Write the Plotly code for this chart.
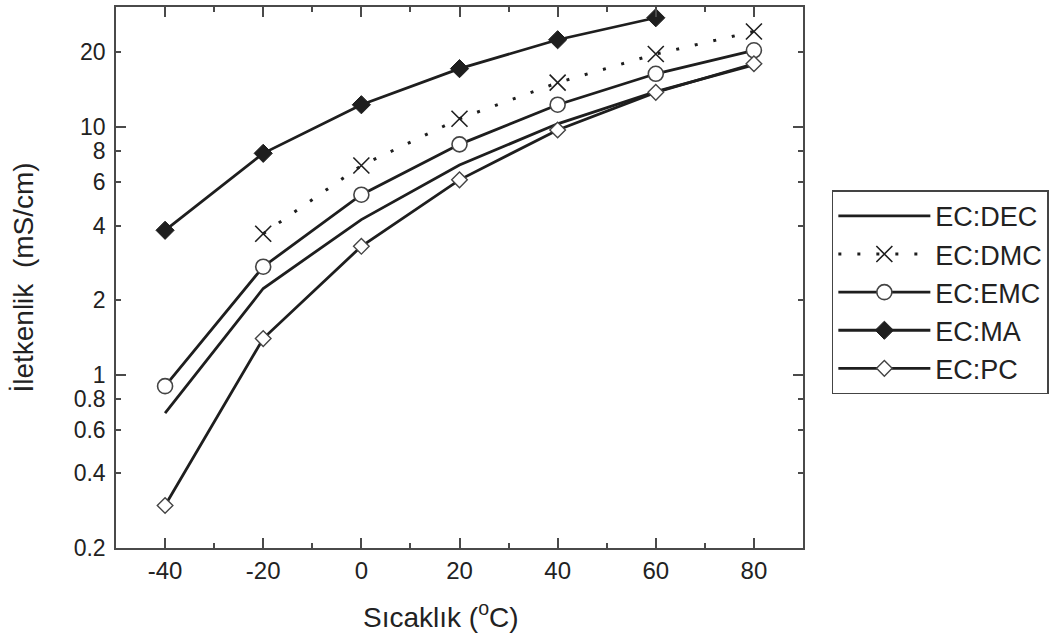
import math
import plotly.graph_objects as go

# ---- data ----
temps = [-40, -20, 0, 20, 40, 60, 80]
ec_dec = [0.70, 2.23, 4.23, 7.03, 10.3, 13.9, 17.8]
ec_dmc = [None, 3.71, 6.99, 10.8, 15.1, 19.7, 24.3]
ec_emc = [0.90, 2.73, 5.33, 8.51, 12.3, 16.4, 20.4]
ec_ma = [3.83, 7.83, 12.3, 17.2, 22.5, 27.6, None]
ec_pc = [0.297, 1.40, 3.30, 6.12, 9.73, 13.8, 18.0]

x_ticks = [-40, -20, 0, 20, 40, 60, 80]
x_ticktext = ["-40", "-20", "0", "20", "40", "60", "80"]
y_ticks = [0.2, 0.4, 0.6, 0.8, 1, 2, 4, 6, 8, 10, 20]
y_ticktext = ["0.2", "0.4", "0.6", "0.8", "1", "2", "4", "6", "8", "10", "20"]
y_decades = [1, 10]

FONT = "Liberation Sans, Arial, Helvetica, sans-serif"
INK = "#1e1e1e"
AX = "#4a4a4a"

fig = go.Figure()

fig.add_trace(go.Scatter(
    x=temps, y=ec_dec, name="EC:DEC", mode="lines",
    line=dict(color=INK, width=2.8)))
fig.add_trace(go.Scatter(
    x=temps, y=ec_dmc, name="EC:DMC", mode="lines+markers",
    line=dict(color=INK, width=3, dash="3px,16px"),
    marker=dict(symbol="x-thin-open", size=16, line=dict(color="#444", width=1.6))))
fig.add_trace(go.Scatter(
    x=temps, y=ec_emc, name="EC:EMC", mode="lines+markers",
    line=dict(color=INK, width=2.8),
    marker=dict(symbol="circle", size=15, color="white", line=dict(color="#444", width=1.6))))
fig.add_trace(go.Scatter(
    x=temps, y=ec_ma, name="EC:MA", mode="lines+markers",
    line=dict(color=INK, width=2.8),
    marker=dict(symbol="diamond", size=14, color=INK, line=dict(color=INK, width=1))))
fig.add_trace(go.Scatter(
    x=temps, y=ec_pc, name="EC:PC", mode="lines+markers",
    line=dict(color=INK, width=2.8),
    marker=dict(symbol="diamond", size=12, color="white", line=dict(color="#444", width=1.4))))

# empty trace on an overlay axis that carries the long decade ticks
fig.add_trace(go.Scatter(x=[-40], y=[1], yaxis="y2", mode="markers",
                         marker=dict(opacity=0), showlegend=False, hoverinfo="skip"))

yrange = [math.log10(0.2), math.log10(30.5)]

fig.update_layout(
    width=1061, height=642,
    margin=dict(l=116, r=258, t=5, b=94),
    paper_bgcolor="white", plot_bgcolor="white",
    font=dict(family=FONT, color="#222", size=23),
    showlegend=True,
    legend=dict(
        x=1.042, xanchor="left", y=0.661, yanchor="top",
        bordercolor="#444", borderwidth=1.5, bgcolor="white",
        font=dict(size=27, family=FONT, color="#222"),
        itemwidth=92, tracegroupgap=0,
    ),
    xaxis=dict(
        range=[-50, 90], tickmode="array", tickvals=x_ticks, ticktext=x_ticktext,
        ticks="inside", ticklen=10, tickwidth=1.5, tickcolor=AX,
        showline=True, linecolor=AX, linewidth=1.5, mirror="ticks",
        showgrid=False, zeroline=False,
        minor=dict(dtick=10, tick0=0, ticks="inside", ticklen=5, tickwidth=1.5, tickcolor=AX),
        tickfont=dict(size=24),
    ),
    yaxis=dict(
        type="log", range=yrange, tickmode="array", tickvals=y_ticks, ticktext=y_ticktext,
        ticks="inside", ticklen=5, tickwidth=1.5, tickcolor=AX,
        showline=True, linecolor=AX, linewidth=1.5, mirror="ticks",
        showgrid=False, zeroline=False,
        tickfont=dict(size=23), ticklabelstandoff=4,
        title=dict(text="İletkenlik  (mS/cm)", font=dict(size=28), standoff=32),
    ),
    yaxis2=dict(
        type="log", range=yrange, overlaying="y", side="left",
        tickmode="array", tickvals=y_decades, showticklabels=False,
        ticks="inside", ticklen=10, tickwidth=1.5, tickcolor=AX,
        showline=False, mirror="ticks", showgrid=False, zeroline=False,
    ),
    annotations=[dict(
        text="Sıcaklık (<sup>o</sup>C)", xref="paper", yref="paper",
        x=0.473, y=-0.123, xanchor="center", yanchor="middle",
        showarrow=False, font=dict(size=28, family=FONT, color="#222"),
    )],
)

fig.write_html("out.html", config={"displayModeBar": False},
               post_script="document.body.style.margin='0';")
